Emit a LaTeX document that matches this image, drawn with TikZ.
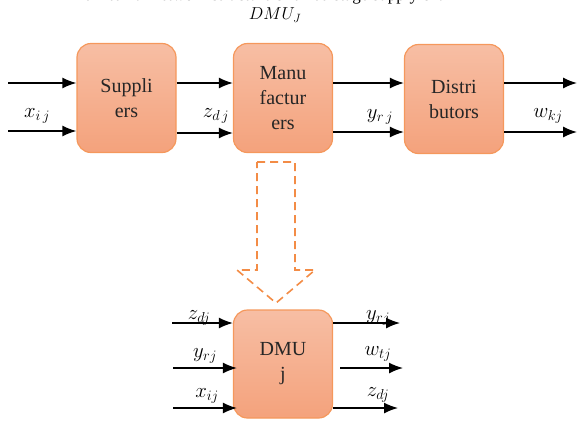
\documentclass[tikz,border=0pt]{standalone}
\usepackage{fontspec}
\setmainfont{Liberation Serif}
\usetikzlibrary{arrows.meta}
\definecolor{boxtop}{RGB}{247,190,164}
\definecolor{boxbot}{RGB}{244,162,124}
\definecolor{boxline}{RGB}{245,152,92}
\definecolor{dashline}{RGB}{243,140,70}
\begin{document}
\begin{tikzpicture}[x=1pt,y=-1pt,
  stage/.style={draw=boxline, line width=1.2pt, rounded corners=14pt,
    top color=boxtop, bottom color=boxbot,
    minimum width=99pt, minimum height=109pt, align=center,
    text=black!85, font=\fontsize{20}{25}\selectfont},
  flow/.style={line width=1.5pt, -{Latex[length=14pt,width=11pt]}},
  lab/.style={font=\fontsize{22}{22}\selectfont},
  slab/.style={font=\fontsize{20}{20}\selectfont}]
  \useasboundingbox (0,0) rectangle (577,421);
  % title (cut at the top edge)
  \node[anchor=base, font=\fontsize{17}{17}\selectfont] (cap) at (262,0.5) {The internal network structure of three-stage supply chain};
  \node[font=\fontsize{17}{17}\selectfont] (title) at (275,15) {$DMU_J$};
  % three stages
  \node[stage] (sup) at (126.5,98) {Suppli\\ers};
  \node[stage] (man) at (283,98) {Manu\\factur\\ers};
  \node[stage] (dis) at (454,99) {Distri\\butors};
  \coordinate (in1) at (8,83);
  \coordinate (in2) at (8,131);
  \coordinate (out1) at (577,83);
  \coordinate (out2) at (577,132);
  \draw[flow] (in1) -- (in1 -| sup.west);
  \draw[flow] (in2) -- (in2 -| sup.west);
  \draw[flow] (sup.east |- in1) -- (man.west |- in1);
  \draw[flow] (sup.east |- 0,133) -- (man.west |- 0,133);
  \draw[flow] (man.east |- in1) -- (dis.west |- in1);
  \draw[flow] (man.east |- 0,132) -- (dis.west |- 0,132);
  \draw[flow] (dis.east |- out1) -- (out1);
  \draw[flow] (dis.east |- out2) -- (out2);
  \node[lab] (lx) at (37,116) {$x_{i\,j}$};
  \node[lab] (lz) at (216,116) {$z_{d\,j}$};
  \node[lab] (ly) at (380,117) {$y_{r\,j}$};
  \node[slab] (lw) at (548,116) {$w_{kj}$};
  % dashed arrow down
  \draw[dashline, line width=1.6pt, dash pattern=on 8pt off 5pt]
    (257,162) -- (295,162) -- (295,270) -- (315,270) -- (276,303)
    -- (237,270) -- (257,270) -- cycle;
  % DMU j
  \node[stage, minimum height=108pt] (dmu) at (283,364) {DMU\\j};
  \coordinate (a1) at (172,323);
  \coordinate (a2) at (173,368);
  \coordinate (a3) at (173,408);
  \coordinate (b1) at (400,323);
  \coordinate (b2) at (403,368);
  \coordinate (b3) at (398,408);
  \draw[flow] (a1) -- (a1 -| dmu.west);
  \draw[flow] (a2) -- ([xshift=4pt]a2 -| dmu.west);
  \draw[flow] (a3) -- ([xshift=4pt]a3 -| dmu.west);
  \draw[flow] (dmu.east |- b1) -- (b1);
  \draw[flow] ([xshift=7pt]dmu.east |- b2) -- (b2);
  \draw[flow] (dmu.east |- b3) -- (b3);
  \node[slab] (la1) at (199,318) {$z_{dj}$};
  \node[slab] (la2) at (205,356) {$y_{rj}$};
  \node[slab] (la3) at (207,396) {$x_{ij}$};
  \node[slab] (lb1) at (378,318) {$y_{rj}$};
  \node[slab] (lb2) at (378,354) {$w_{tj}$};
  \node[slab] (lb3) at (378,395) {$z_{dj}$};
\end{tikzpicture}
\end{document}
